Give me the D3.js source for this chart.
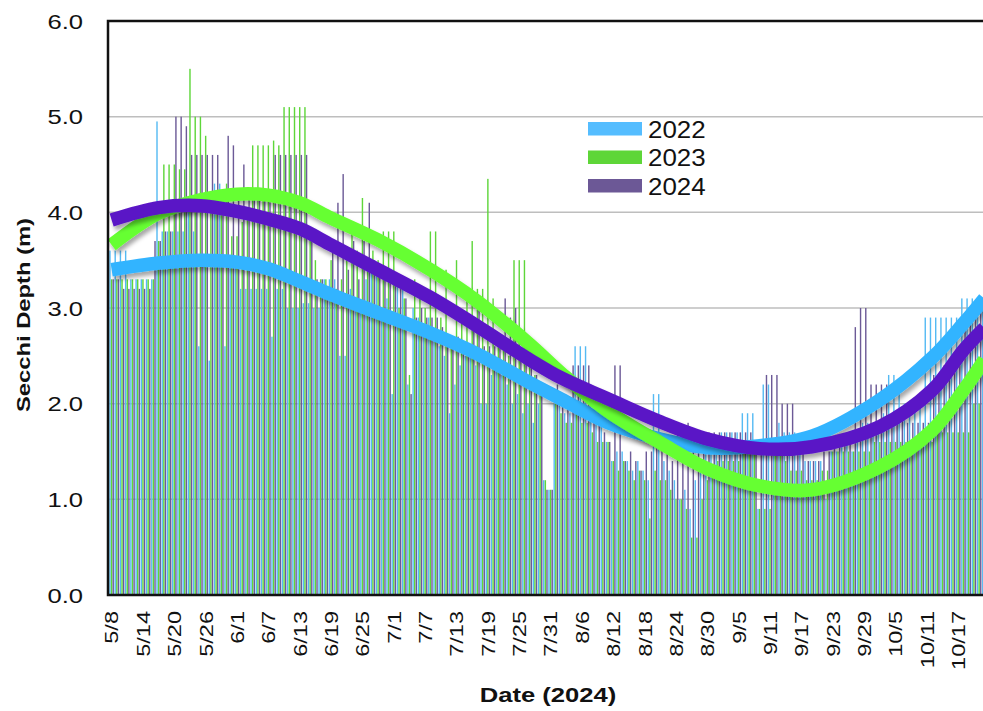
<!DOCTYPE html>
<html><head><meta charset="utf-8">
<script src="https://cdn.jsdelivr.net/npm/d3@7"></script>
<style>
body{margin:0;background:#fff}
svg{display:block}
text{font-family:"Liberation Sans",Arial,sans-serif;fill:#111}
</style>
</head><body>
<svg id="chart" width="983" height="711"></svg>
<script>
// ---------------- DATA ----------------
const startDate = "2024-05-08";
const endDate = "2024-10-23"; // exclusive
const years = ["2022", "2023", "2024"];
const tickLabels = ["5/8","5/14","5/20","5/26","6/1","6/7","6/13","6/19","6/25","7/1","7/7","7/13","7/19","7/25","7/31","8/6","8/12","8/18","8/24","8/30","9/5","9/11","9/17","9/23","9/29","10/5","10/11","10/17"];

// daily Secchi depth (m), one value per day from 5/8 to 10/22
const depth2022 = [
 3.6,3.6,3.6,3.6,3.3,3.3,  3.3,3.3,3.3,4.95,3.8,3.8,  3.8,3.8,3.8,4.0,3.8,2.6,  3.5,2.45,4.3,4.3,2.6,3.5,
 3.5,3.2,3.2,3.2,3.2,3.2,  3.2,2.7,3.2,3.2,3.0,3.0,  3.0,3.05,3.05,3.0,3.0,3.3,  3.3,3.3,2.5,2.5,3.2,3.0,
 3.0,3.3,3.4,3.4,2.9,3.1,  2.1,3.3,3.2,2.2,3.0,2.9,  2.8,2.9,2.7,2.6,2.5,1.9,  2.2,2.4,2.5,2.5,2.4,2.0,
 2.0,2.3,2.4,2.3,2.2,2.0,  2.1,1.9,2.0,1.8,2.0,1.2,  1.1,2.0,2.0,1.9,1.9,2.6,  2.6,2.6,2.2,1.9,1.8,1.6,
 1.4,1.5,1.5,1.4,1.3,1.4,  1.3,1.2,2.1,2.1,1.4,1.3,  1.2,1.0,1.1,0.9,1.2,1.3,  1.5,1.6,1.6,1.7,1.7,1.7,
 1.7,1.9,1.9,1.9,0.9,2.2,  2.2,1.6,1.8,1.7,1.7,1.7,  1.6,1.4,1.4,1.4,1.4,1.0,  1.5,1.5,1.6,1.6,1.5,1.7,
 1.8,1.8,1.8,1.8,1.9,2.3,  2.3,2.1,2.0,2.0,2.0,2.1,  2.9,2.9,2.9,2.9,2.9,2.9,  2.9,3.1,3.1,3.1,3.1,3.1
];
const depth2023 = [
 3.3,3.3,3.3,3.3,3.3,3.3,  3.3,3.3,3.3,3.7,4.5,4.5,  4.5,4.45,4.45,5.5,5.0,5.0,  4.8,4.0,4.0,4.2,4.3,3.75,
 3.75,3.9,4.0,4.7,4.7,4.7,  4.7,4.75,4.7,5.1,5.1,5.1,  5.1,5.1,3.8,3.5,3.3,3.3,  3.5,3.2,3.3,3.5,3.9,3.6,
 4.15,3.4,3.6,3.5,3.8,3.8,  3.8,3.0,3.1,2.3,3.3,3.2,  3.0,3.8,3.8,2.9,3.4,2.7,  3.5,2.9,3.2,3.7,3.2,3.2,
 4.35,3.1,2.6,2.7,2.5,3.5,  3.5,3.5,2.4,2.3,2.2,1.2,  1.1,2.0,1.9,1.8,1.8,1.9,  1.8,1.8,1.7,1.6,1.6,1.6,
 1.4,1.3,1.4,1.3,1.2,1.3,  1.2,0.8,1.3,1.2,1.2,1.1,  1.0,1.0,0.9,0.6,0.6,1.0,  1.2,1.3,1.4,1.4,1.4,1.4,
 1.4,1.5,1.5,1.5,0.9,0.9,  0.9,1.6,1.65,1.4,1.3,1.3,  1.3,1.2,1.2,1.2,1.3,1.3,  1.5,1.5,1.5,1.5,1.5,1.5,
 1.5,1.5,1.6,1.6,1.6,1.6,  1.6,1.6,1.6,1.6,1.6,1.6,  1.6,1.6,1.7,1.7,1.7,1.7,  1.7,1.7,1.7,2.0,2.0,2.0
];
const depth2024 = [
 3.3,3.3,3.2,3.2,3.2,3.2,  3.2,3.2,3.7,3.7,3.8,3.8,  5.0,5.0,4.9,4.6,4.6,4.6,  4.6,4.6,4.6,4.2,4.8,4.7,
 4.2,4.5,4.2,4.2,4.2,4.2,  4.2,4.6,4.6,4.6,4.6,4.6,  4.6,4.6,3.7,3.3,3.3,3.2,  3.6,4.1,4.4,3.4,3.7,3.3,
 3.7,4.1,3.5,3.4,3.4,3.3,  3.3,3.2,3.1,2.1,2.9,3.0,  2.9,2.9,2.9,2.8,2.7,2.6,  2.7,2.6,2.6,2.8,3.1,2.6,
 2.6,2.6,2.7,3.1,2.9,3.0,  2.5,2.5,2.4,2.3,2.2,1.1,  1.1,2.2,2.1,2.0,2.4,2.4,  2.4,2.4,1.9,1.8,1.7,1.6,
 2.4,2.4,1.4,1.5,1.4,1.3,  1.5,1.5,1.6,1.6,1.5,1.4,  1.8,1.6,1.8,1.6,1.6,1.6,  1.7,1.7,1.7,1.7,1.7,1.7,
 1.7,1.7,1.7,1.5,1.6,2.3,  2.3,2.3,2.0,2.0,2.0,1.5,  1.5,1.4,1.4,1.4,1.5,1.5,  1.6,1.6,1.6,1.7,2.8,3.0,
 3.0,2.2,2.2,2.2,2.2,1.9,  1.9,1.9,1.8,1.8,1.8,1.8,  1.8,2.3,2.3,2.4,2.4,2.5,  2.6,2.8,2.9,2.9,3.0,3.0
];

// trend lines at these dates
const trendDates = ["5/8","5/17","5/25","6/1","6/7","6/13","6/19","6/28","7/8","7/17","7/27","8/2","8/11","8/21","8/30","9/9","9/19","10/2","10/12","10/18","10/22"];
const trend2022 = [3.40,3.47,3.50,3.48,3.41,3.28,3.14,2.95,2.74,2.52,2.22,2.05,1.80,1.63,1.54,1.56,1.66,2.04,2.48,2.84,3.10];
const trend2023 = [3.66,3.99,4.13,4.19,4.18,4.10,3.94,3.71,3.40,3.07,2.62,2.32,1.92,1.59,1.32,1.14,1.10,1.34,1.72,2.14,2.46];
const trend2024 = [3.92,4.05,4.07,4.01,3.93,3.83,3.66,3.40,3.11,2.81,2.46,2.27,2.05,1.81,1.63,1.53,1.55,1.76,2.14,2.56,2.79];

const yTicks = [0,1,2,3,4,5,6];

// ---------------- STYLE ----------------
const barColors = {"2022":"#55BAF3","2023":"#5ED63A","2024":"#6C5A97"};
const trendColors = {"2022":"#33B4FF","2023":"#66FF33","2024":"#5A16C6"};
const legendColors = {"2022":"#55BDFF","2023":"#5ED638","2024":"#6C5896"};

// ---------------- CHART ----------------
const fmt = d3.timeFormat("%-m/%-d");
const parse = d3.timeParse("%Y-%m-%d");
const categories = d3.timeDay.range(parse(startDate), parse(endDate)).map(fmt);

const plot = {left:108, top:21, right:983, bottom:595};
const svg = d3.select("#chart");

const x = d3.scaleBand().domain(categories).range([109, 987]).paddingInner(0).paddingOuter(0);
const y = d3.scaleLinear().domain([0,6]).range([plot.bottom, plot.top]);
const bw = x.bandwidth();

const defs = svg.append("defs");
defs.append("clipPath").attr("id","clip").append("rect")
  .attr("x",plot.left).attr("y",plot.top-2).attr("width",plot.right-plot.left).attr("height",plot.bottom-plot.top+2);
const f = defs.append("filter").attr("id","shadow").attr("x","-5%").attr("y","-30%").attr("width","110%").attr("height","160%");
f.append("feDropShadow").attr("dx",2).attr("dy",4).attr("stdDeviation",2)
  .attr("flood-color","#000").attr("flood-opacity",0.35);

// gridlines
svg.append("g").selectAll("line").data(yTicks.filter(t=>t>0 && t<6)).join("line")
  .attr("x1",plot.left).attr("x2",plot.right)
  .attr("y1",d=>y(d)).attr("y2",d=>y(d))
  .attr("stroke","#BEBEBE").attr("stroke-width",1.5);

// bars
const series = {"2022":depth2022,"2023":depth2023,"2024":depth2024};
const gBars = svg.append("g").attr("clip-path","url(#clip)");
years.forEach((yr, s) => {
  gBars.append("g").selectAll("rect").data(series[yr]).join("rect")
    .attr("x",(d,i)=>x(categories[i]) + bw*(0.05 + s*0.31))
    .attr("width",bw*0.27)
    .attr("y",d=>y(d))
    .attr("height",d=>y(0)-y(d))
    .attr("fill",barColors[yr]);
});

// trend lines
const line = d3.line().x(d=>x(d[0])+bw/2).y(d=>y(d[1])).curve(d3.curveCatmullRom.alpha(0.5));
const trends = {"2022":trend2022,"2023":trend2023,"2024":trend2024};
const gTrend = svg.append("g").attr("clip-path","url(#clip)");
years.forEach(yr => {
  gTrend.append("path")
    .datum(trendDates.map((dt,i)=>[dt,trends[yr][i]]))
    .attr("d",line)
    .attr("fill","none")
    .attr("stroke",trendColors[yr])
    .attr("stroke-width",13.5)
    .attr("filter","url(#shadow)");
});

// plot border
svg.append("path")
  .attr("d",`M${plot.right+5},${plot.top}H${plot.left}V${plot.bottom}H${plot.right+5}`)
  .attr("fill","none").attr("stroke","#111").attr("stroke-width",2.5);

// y axis labels
const yAxisG = svg.append("g");
yAxisG.selectAll("g").data(yTicks).join("g")
  .attr("transform",d=>`translate(83,${y(d)}) scale(1.22,1)`)
  .append("text")
  .attr("text-anchor","end").attr("dy","0.36em")
  .attr("font-size",21)
  .text(d=>d3.format(".1f")(d));

// x axis labels
svg.append("g").selectAll("g").data(tickLabels).join("g")
  .attr("transform",d=>`translate(${x(d)+bw/2},611) rotate(-90) scale(1.24,1)`)
  .append("text")
  .attr("text-anchor","end").attr("dy","0.36em")
  .attr("font-size",19)
  .text(d=>d);

// axis titles
svg.append("g").attr("transform","translate(30,315) rotate(-90) scale(1.25,1)")
  .append("text").attr("text-anchor","middle")
  .attr("font-size",19).attr("font-weight","bold")
  .text("Secchi Depth (m)");
svg.append("g").attr("transform","translate(548,702) scale(1.28,1)")
  .append("text").attr("text-anchor","middle")
  .attr("font-size",20).attr("font-weight","bold")
  .text("Date (2024)");

// legend
const leg = svg.append("g").attr("transform","translate(588,122)");
years.forEach((yr,i)=>{
  const row = leg.append("g").attr("transform",`translate(0,${i*28.5})`);
  row.append("rect").attr("x",0).attr("y",0).attr("width",54).attr("height",13.5).attr("fill",legendColors[yr]);
  row.append("g").attr("transform","translate(60,15.5) scale(1.08,1)")
    .append("text").attr("font-size",24).text(yr);
});
</script>
</body></html>
